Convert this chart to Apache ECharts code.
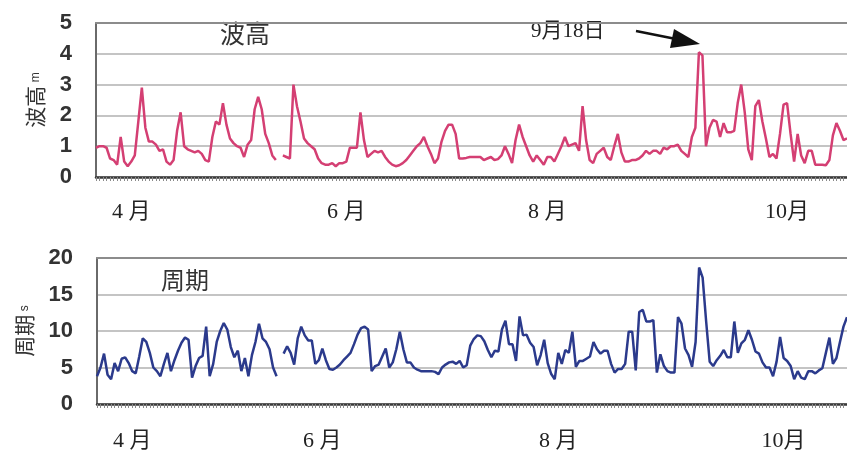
<!DOCTYPE html>
<html>
<head>
<meta charset="utf-8">
<script src="https://cdn.jsdelivr.net/npm/echarts@6/dist/echarts.min.js"></script>
<style>
  html, body { margin: 0; padding: 0; background: #fff; }
  #chart { width: 847px; height: 453px; }
</style>
</head>
<body>
<div id="chart"></div>
<script>
// Daily observations from 1 April through 31 October (null = missing day)
const startDate = new Date(2000, 3, 1);
const dayCount = 214;

// Significant wave height (m)
const waveHeight = [
  0.95, 1.0, 1.0, 0.95, 0.6, 0.55, 0.4, 1.3, 0.5, 0.35,
  0.5, 0.7, 1.8, 2.9, 1.6, 1.15, 1.15, 1.05, 0.85, 0.9,
  0.5, 0.4, 0.55, 1.5, 2.1, 1.0, 0.9, 0.85, 0.8, 0.85,
  0.75, 0.55, 0.5, 1.3, 1.8, 1.7, 2.4, 1.7, 1.25, 1.1,
  1.0, 0.95, 0.65, 1.05, 1.2, 2.2, 2.6, 2.2, 1.4, 1.1,
  0.7, 0.55, null, 0.7, 0.65, 0.6, 3.0, 2.3, 1.8, 1.25,
  1.1, 1.0, 0.9, 0.6, 0.45, 0.4, 0.4, 0.45, 0.35, 0.45,
  0.45, 0.5, 0.95, 0.95, 0.95, 2.1, 1.2, 0.65, 0.75, 0.85,
  0.8, 0.85, 0.65, 0.5, 0.4, 0.35, 0.38, 0.45, 0.55, 0.7,
  0.85, 1.0, 1.1, 1.3, 1.0, 0.75, 0.45, 0.6, 1.15, 1.5,
  1.7, 1.7, 1.4, 0.6, 0.6, 0.62, 0.65, 0.65, 0.65, 0.65,
  0.55, 0.6, 0.65, 0.55, 0.58, 0.7, 1.0, 0.75, 0.45, 1.2,
  1.7, 1.3, 1.0, 0.7, 0.5, 0.7, 0.55, 0.4, 0.65, 0.65,
  0.5, 0.75, 1.0, 1.3, 1.0, 1.05, 1.1, 0.85, 2.3, 1.2,
  0.55, 0.45, 0.75, 0.85, 0.95, 0.65, 0.55, 1.0, 1.4, 0.8,
  0.5, 0.5, 0.55, 0.55, 0.6, 0.7, 0.85, 0.75, 0.85, 0.85,
  0.75, 0.95, 0.9, 1.0, 1.0, 1.05, 0.85, 0.75, 0.65, 1.3,
  1.6, 4.05, 3.95, 1.0, 1.6, 1.85, 1.8, 1.3, 1.75, 1.45,
  1.45, 1.5, 2.4, 3.0, 2.1, 0.9, 0.55, 2.3, 2.5, 1.8,
  1.25, 0.65, 0.75, 0.6, 1.4, 2.35, 2.4, 1.4, 0.5, 1.4,
  0.7, 0.45, 0.85, 0.85, 0.4, 0.4, 0.4, 0.38, 0.55, 1.35,
  1.75, 1.5, 1.2, 1.25
];

// Significant wave period (s)
const wavePeriod = [
  3.8, 5.0, 6.9, 4.0, 3.4, 5.6, 4.5, 6.2, 6.4, 5.6,
  4.5, 4.2, 6.5, 9.0, 8.5, 7.0, 5.0, 4.5, 3.8, 5.5,
  7.0, 4.5, 6.0, 7.3, 8.4, 9.1, 8.8, 3.6, 5.2, 6.3,
  6.6, 10.6, 3.8, 5.5, 8.5, 10.0, 11.1, 10.2, 7.8, 6.4,
  7.3, 4.5, 6.3, 3.8, 6.7, 8.5, 11.0, 9.0, 8.5, 7.5,
  5.0, 3.8, null, 6.9, 7.9, 7.0, 5.4, 9.0, 10.6, 9.4,
  8.7, 8.7, 5.5, 6.0, 7.6, 6.0, 4.8, 4.7, 5.0, 5.4,
  6.0, 6.5, 7.0, 8.2, 9.5, 10.4, 10.6, 10.2, 4.5, 5.2,
  5.4, 6.5, 7.6, 5.0, 5.7, 7.5, 9.9, 7.5, 5.7, 5.7,
  5.0, 4.7, 4.5, 4.5, 4.5, 4.5, 4.4, 4.1, 5.0, 5.4,
  5.7, 5.8, 5.5, 5.9, 5.0, 5.3, 8.0, 8.9, 9.4, 9.3,
  8.6, 7.4, 6.4, 7.3, 7.2, 10.2, 11.4, 8.2, 8.2, 5.9,
  12.0, 9.4, 9.5, 8.4, 7.8, 5.3, 6.7, 8.8, 5.6, 4.1,
  3.4, 7.0, 5.5, 7.4, 7.0, 9.9, 5.1, 5.9, 5.9, 6.2,
  6.5, 8.5, 7.5, 6.9, 7.3, 7.3, 5.5, 4.3, 4.8, 4.8,
  5.5, 9.9, 9.9, 4.6, 12.6, 12.9, 11.3, 11.3, 11.5, 4.3,
  6.8, 5.2, 4.5, 4.3, 4.3, 11.9, 11.0, 7.6, 6.7, 5.1,
  8.5, 18.7, 17.3, 11.3, 5.8, 5.2, 6.0, 6.6, 7.4, 6.4,
  6.4, 11.3, 7.0, 8.3, 8.8, 10.1, 8.8, 7.2, 6.9, 5.7,
  5.0, 5.0, 3.8, 5.8, 9.2, 6.3, 5.9, 5.2, 3.4, 4.5,
  3.6, 3.4, 4.5, 4.5, 4.2, 4.6, 4.9, 7.0, 9.1, 5.5,
  6.3, 8.5, 10.6, 11.9
];

// Month tick labels and the day index each one sits under
const monthLabels = ['4 月', '6 月', '8 月', '10月'];
const heightLabelDays = [10, 71, 128, 196];
const periodLabelDays = [10, 64, 131, 195];

const days = [];
for (let i = 0; i < dayCount; i++) {
  const d = new Date(startDate.getTime() + i * 86400000);
  days.push((d.getMonth() + 1) + '/' + d.getDate());
}

const serif = "'Liberation Serif', 'Noto Sans CJK JP', serif";
const cjk = "'Noto Sans CJK JP', sans-serif";
const sansBold = "'Liberation Sans', Arial, sans-serif";

function monthAxis(gridIndex, labelDays, margin) {
  const lookup = {};
  labelDays.forEach((d, k) => { lookup[d] = monthLabels[k]; });
  return {
    type: 'category', gridIndex: gridIndex, data: days, boundaryGap: false,
    axisLine: { lineStyle: { color: '#3a3a3a', width: 2.5 } },
    axisTick: { show: true, interval: 0, length: 4, lineStyle: { color: '#8a8a8a', width: 1 } },
    axisLabel: {
      interval: (idx) => lookup[idx] !== undefined,
      formatter: (v, idx) => lookup[idx] || '',
      margin: margin, color: '#222', fontSize: 22, fontFamily: serif
    },
    splitLine: { show: false }
  };
}

function topEdge(gridIndex) {
  return {
    type: 'category', gridIndex: gridIndex, position: 'top', data: days, boundaryGap: false,
    axisLine: { lineStyle: { color: '#8c8c8c', width: 2 } },
    axisTick: { show: false }, axisLabel: { show: false }
  };
}

function valueAxis(gridIndex, max, interval, nameText, unit, nameGap) {
  return {
    type: 'value', gridIndex: gridIndex, min: 0, max: max, interval: interval,
    name: '{n|' + nameText + '} {u|' + unit + '}',
    nameLocation: 'middle', nameRotate: 90, nameGap: nameGap,
    nameTextStyle: {
      rich: {
        n: { fontSize: 21, fontFamily: cjk, color: '#333' },
        u: { fontSize: 12, fontFamily: sansBold, color: '#333' }
      }
    },
    axisLine: { show: true, lineStyle: { color: '#6a6a6a', width: 2 } },
    axisTick: { show: false },
    axisLabel: { color: '#333', fontSize: 22, fontWeight: 'bold', fontFamily: sansBold, margin: 24 },
    splitLine: { show: true, lineStyle: { color: '#b0b0b0', width: 1.5 } }
  };
}

const chart = echarts.init(document.getElementById('chart'), null, { renderer: 'canvas' });
chart.setOption({
  backgroundColor: '#ffffff',
  animation: false,
  grid: [
    { left: 96, top: 23, width: 751, height: 154 },
    { left: 97, top: 258, width: 750, height: 146 }
  ],
  xAxis: [
    monthAxis(0, heightLabelDays, 24),
    topEdge(0),
    monthAxis(1, periodLabelDays, 26),
    topEdge(1)
  ],
  yAxis: [
    valueAxis(0, 5, 1, '波高', 'm', 50),
    valueAxis(1, 20, 5, '周期', 's', 62)
  ],
  series: [
    {
      name: '波高', type: 'line', xAxisIndex: 0, yAxisIndex: 0, data: waveHeight,
      showSymbol: false, connectNulls: false,
      lineStyle: { color: '#d43f73', width: 2.5 }
    },
    {
      name: '周期', type: 'line', xAxisIndex: 2, yAxisIndex: 1, data: wavePeriod,
      showSymbol: false, connectNulls: false,
      lineStyle: { color: '#2b3a8c', width: 2.5 }
    }
  ],
  graphic: [
    { type: 'text', left: 220, top: 21, style: { text: '波高', fontSize: 25, fontFamily: cjk, fill: '#333' } },
    { type: 'text', left: 161, top: 268, style: { text: '周期', fontSize: 24, fontFamily: cjk, fill: '#333' } },
    { type: 'text', left: 531, top: 21, style: { text: '9月18日', fontSize: 21, fontFamily: serif, fill: '#222' } },
    { type: 'line', shape: { x1: 636, y1: 31, x2: 676, y2: 39 }, style: { stroke: '#111', lineWidth: 2.5 } },
    { type: 'polygon', shape: { points: [[674, 29], [700, 44], [670, 48]] }, style: { fill: '#111' } }
  ]
});
</script>
</body>
</html>
